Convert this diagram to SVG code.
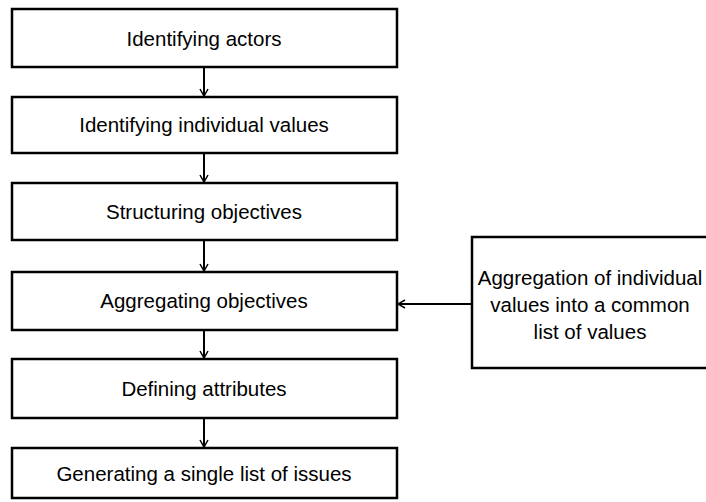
<svg xmlns="http://www.w3.org/2000/svg" width="706" height="502" viewBox="0 0 706 502">
<style>
.box{fill:#fff;stroke:#000;stroke-width:2.5}
.t{font-family:"Liberation Sans",Arial,sans-serif;font-size:20.5px;fill:#000;text-anchor:middle}
.c{stroke:#000;stroke-width:2;fill:none}
</style>
<defs>
<marker id="a" markerWidth="10" markerHeight="10" refX="9" refY="5" orient="auto" markerUnits="userSpaceOnUse">
<path d="M2,1 L9,5 L2,9" fill="none" stroke="#000" stroke-width="1.5"/>
</marker>
</defs>
<rect width="706" height="502" fill="#fff"/>
<g id="n1"><rect class="box" x="12" y="9" width="385" height="58"/><text class="t" x="204" y="46">Identifying actors</text></g>
<g id="n2"><rect class="box" x="12" y="97" width="385" height="56"/><text class="t" x="204" y="132">Identifying individual values</text></g>
<g id="n3"><rect class="box" x="12" y="183" width="385" height="57"/><text class="t" x="204" y="219">Structuring objectives</text></g>
<g id="n4"><rect class="box" x="12" y="272" width="385" height="58"/><text class="t" x="204" y="308">Aggregating objectives</text></g>
<g id="n5"><rect class="box" x="12" y="359" width="385" height="59"/><text class="t" x="204" y="396">Defining attributes</text></g>
<g id="n6"><rect class="box" x="12" y="448" width="385" height="50"/><text class="t" x="204" y="481">Generating a single list of issues</text></g>
<g id="n7"><rect class="box" x="472" y="237" width="236" height="131"/>
<text class="t" x="590" y="285">Aggregation of individual</text>
<text class="t" x="590" y="312">values into a common</text>
<text class="t" x="590" y="339">list of values</text></g>
<g id="connectors">
<line class="c" x1="204" y1="67" x2="204" y2="96" marker-end="url(#a)"/>
<line class="c" x1="204" y1="153" x2="204" y2="182" marker-end="url(#a)"/>
<line class="c" x1="204" y1="240" x2="204" y2="271" marker-end="url(#a)"/>
<line class="c" x1="204" y1="330" x2="204" y2="358" marker-end="url(#a)"/>
<line class="c" x1="204" y1="418" x2="204" y2="447" marker-end="url(#a)"/>
<line class="c" x1="472" y1="304" x2="398" y2="304" marker-end="url(#a)"/>
</g>
</svg>
